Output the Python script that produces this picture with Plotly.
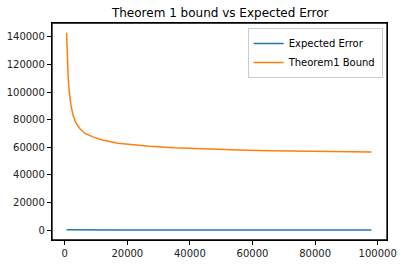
import plotly.graph_objects as go

x_vals = [600, 800, 1100, 1400, 1700, 2000, 2700, 3500, 4800, 6500, 9000, 12000, 17000,
          22000, 27000, 35000, 43000, 50000, 58000, 66000, 74000, 82000, 90000, 98000]
bound_vals = [143000, 128000, 111000, 101000, 95000, 90500, 83000, 78000, 73600, 70000,
              67500, 65300, 62900, 61700, 60800, 59700, 58900, 58400, 57800, 57400,
              57100, 56900, 56700, 56500]
expected_vals = [150, 140, 130, 120, 115, 110, 105, 100, 95, 90, 85, 80, 75,
                 70, 70, 65, 65, 60, 60, 60, 60, 60, 60, 60]
x_ticks = [0, 20000, 40000, 60000, 80000, 100000]
y_ticks = [0, 20000, 40000, 60000, 80000, 100000, 120000, 140000]

font = "DejaVu Sans, sans-serif"

fig = go.Figure()
fig.add_trace(go.Scatter(x=x_vals, y=expected_vals, mode="lines", name="Expected Error",
                         line=dict(color="#1f77b4", width=1.5)))
fig.add_trace(go.Scatter(x=x_vals, y=bound_vals, mode="lines", name="Theorem1 Bound",
                         line=dict(color="#ff7f0e", width=1.5)))

axis_common = dict(showline=True, linecolor="black", linewidth=1.3, mirror=True,
                   ticks="outside", ticklen=4, tickwidth=1.3, tickcolor="black",
                   showgrid=False, zeroline=False,
                   tickfont=dict(family=font, size=10, color="#222222"),
                   tickformat="d", automargin=False)
fig.update_xaxes(range=[-4060, 102970], tickvals=x_ticks, **axis_common)
fig.update_yaxes(range=[-7240, 150100], tickvals=y_ticks, **axis_common)

fig.add_shape(type="rect", xref="paper", yref="paper", x0=0, y0=0, x1=1, y1=1,
              line=dict(color="black", width=1.3), fillcolor="rgba(0,0,0,0)", layer="above")

fig.update_layout(
    width=404, height=264,
    margin=dict(l=52, r=17, t=23, b=24, autoexpand=False),
    paper_bgcolor="white", plot_bgcolor="white",
    title=dict(text="Theorem 1 bound vs Expected Error", x=0.545, xanchor="center",
               y=0.95, yanchor="middle", font=dict(family=font, size=12, color="black")),
    legend=dict(x=0.987, xanchor="right", y=0.977, yanchor="top",
                bordercolor="#cccccc", borderwidth=1, bgcolor="rgba(255,255,255,0.8)",
                font=dict(family=font, size=10, color="black"),
                tracegroupgap=0, itemwidth=30),
    showlegend=True,
)

fig.write_html("out.html")
